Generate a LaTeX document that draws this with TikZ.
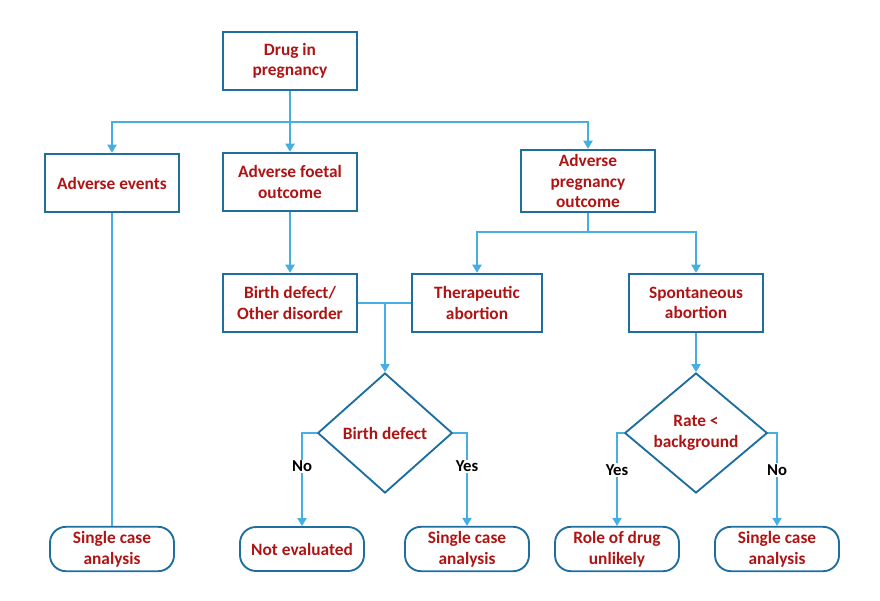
\documentclass[tikz,border=0pt]{standalone}
\usepackage{fontspec}
\setmainfont{Carlito}
\usetikzlibrary{shapes.geometric,arrows.meta}
\definecolor{boxblue}{RGB}{30,110,160}
\definecolor{lineblue}{RGB}{70,175,225}
\definecolor{txtred}{RGB}{175,20,20}
\tikzset{
  box/.style={draw=boxblue, line width=1.4pt, minimum width=101pt, minimum height=44pt,
    align=center, text=txtred, font=\bfseries\fontsize{13}{15.5}\selectfont},
  term/.style={box, rounded corners=12pt, minimum width=93pt, minimum height=33pt},
  dia/.style={box, diamond, aspect=1.13, inner sep=1pt},
  conn/.style={draw=lineblue, line width=0.8pt},
  arr/.style={conn, -{Triangle[length=6pt,width=7pt]}},
  lbl/.style={font=\bfseries\fontsize{12.5}{15}\selectfont}
}
\begin{document}
\begin{tikzpicture}[x=0.75pt,y=-0.75pt]
  \useasboundingbox (0,0) rectangle (880,600);
  % boxes
  \node[box] (drug) at (290,61) {Drug in\\pregnancy};
  \node[box] (ae) at (112,183) {Adverse events};
  \node[box] (afo) at (290,182) {Adverse foetal\\outcome};
  \node[box, minimum height=47pt] (apo) at (588,181) {Adverse\\pregnancy\\outcome};
  \node[box] (bd) at (290,303) {Birth defect/\\Other disorder};
  \node[box, minimum width=98pt] (ta) at (477,303) {Therapeutic\\abortion};
  \node[box] (sa) at (696,303) {Spontaneous\\abortion};
  \node[dia, minimum width=101pt, minimum height=90pt] (dbd) at (385,433) {Birth defect};
  \node[dia, minimum width=107pt, minimum height=90pt] (drb) at (696,433) {Rate <\\background};
  % terminals
  \node[term] (sc1) at (112,549) {Single case\\analysis};
  \node[term] (ne) at (302,549) {Not evaluated};
  \node[term] (sc2) at (467,549) {Single case\\analysis};
  \node[term] (rd) at (617,549) {Role of drug\\unlikely};
  \node[term] (sc3) at (777,549) {Single case\\analysis};
  % connectors
  \coordinate (j1) at (290,122);
  \draw[conn] (drug.south) -- (j1);
  \draw[arr] (j1) -| (ae.north);
  \draw[arr] (j1) -- (afo.north);
  \draw[arr] (j1) -| (apo.north);
  \draw[conn] (ae.south) -- (sc1.north);
  \draw[arr] (afo.south) -- (bd.north);
  \coordinate (j2) at (588,232);
  \draw[conn] (apo.south) -- (j2);
  \draw[arr] (j2) -| (ta.north);
  \draw[arr] (j2) -| (sa.north);
  \draw[conn] (bd.east) -- (ta.west);
  \coordinate (j3) at (385,303);
  \draw[arr] (j3) -- (dbd.north);
  \draw[arr] (sa.south) -- (drb.north);
  \draw[arr] (dbd.west) -| (ne.north) node[pos=0.68, lbl, fill=white, inner sep=1pt] {No};
  \draw[arr] (dbd.east) -| (sc2.north) node[pos=0.68, lbl, fill=white, inner sep=1pt] {Yes};
  \draw[arr] (drb.west) -| (rd.north) node[pos=0.7, lbl, fill=white, inner sep=1pt] {Yes};
  \draw[arr] (drb.east) -| (sc3.north) node[pos=0.7, lbl, fill=white, inner sep=1pt] {No};
\end{tikzpicture}
\end{document}
